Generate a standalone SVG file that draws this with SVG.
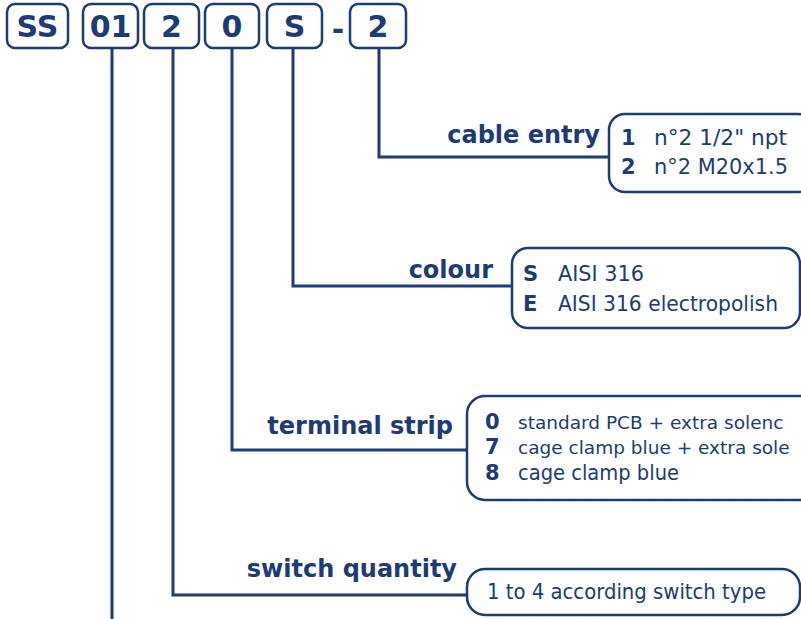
<svg xmlns="http://www.w3.org/2000/svg" width="801" height="619" viewBox="0 0 801 619">
<style>
.bg{fill:#ffffff}
.code{fill:#ffffff;stroke:#1d3b75;stroke-width:2.5}
.box{fill:#ffffff;stroke:#1d3b75;stroke-width:2.5}
.ct{font-family:"DejaVu Sans",sans-serif;font-weight:bold;font-size:30px;fill:#1d3b75;text-anchor:middle}
.lbl{font-family:"DejaVu Sans",sans-serif;font-weight:bold;font-size:24px;fill:#1d3b75;text-anchor:end}
.key{font-family:"DejaVu Sans",sans-serif;font-weight:bold;font-size:21px;fill:#1d3b75}
.txt{font-family:"DejaVu Sans",sans-serif;font-size:21px;fill:#1d3b75}
.txs{font-family:"DejaVu Sans",sans-serif;font-size:18.5px;fill:#1d3b75}
.conn{fill:none;stroke:#1d3b75;stroke-width:3}
</style>
<rect class="bg" x="0" y="0" width="801" height="619"/>
<g id="connectors">
<path class="conn" d="M112,48 V619"/>
<path class="conn" d="M173,48 V595 H467"/>
<path class="conn" d="M232,48 V450 H467"/>
<path class="conn" d="M293,48 V286 H512"/>
<path class="conn" d="M379,48 V157 H609"/>
</g>
<g id="code-SS"><rect class="code" x="7" y="4" width="61" height="44" rx="8"/><text class="ct" x="37.5" y="37">SS</text></g>
<g id="code-01"><rect class="code" x="83" y="4" width="55" height="44" rx="8"/><text class="ct" x="110.5" y="37">01</text></g>
<g id="code-2a"><rect class="code" x="144" y="4" width="55" height="44" rx="8"/><text class="ct" x="171.5" y="37">2</text></g>
<g id="code-0"><rect class="code" x="205" y="4" width="54" height="44" rx="8"/><text class="ct" x="232" y="37">0</text></g>
<g id="code-S"><rect class="code" x="267" y="4" width="55" height="44" rx="8"/><text class="ct" x="294.5" y="37">S</text></g>
<g id="code-dash"><text class="ct" x="338" y="40">-</text></g>
<g id="code-2b"><rect class="code" x="350" y="4" width="56" height="44" rx="8"/><text class="ct" x="378" y="37">2</text></g>

<g id="cable-entry">
<text class="lbl" x="600" y="143">cable entry</text>
<rect class="box" x="609" y="114" width="205" height="78" rx="16"/>
<text class="key" x="621" y="145">1</text><text class="txt" x="654" y="145" textLength="133" lengthAdjust="spacingAndGlyphs">n°2 1/2" npt</text>
<text class="key" x="621" y="174">2</text><text class="txt" x="654" y="174" textLength="134" lengthAdjust="spacingAndGlyphs">n°2 M20x1.5</text>
</g>
<g id="colour">
<text class="lbl" x="493" y="278">colour</text>
<rect class="box" x="512" y="248" width="288" height="80" rx="16"/>
<text class="key" x="523" y="281">S</text><text class="txt" x="558" y="281" textLength="86" lengthAdjust="spacingAndGlyphs">AISI 316</text>
<text class="key" x="523" y="311">E</text><text class="txt" x="558" y="311" textLength="220" lengthAdjust="spacingAndGlyphs">AISI 316 electropolish</text>
</g>
<g id="terminal-strip">
<text class="lbl" x="453" y="434">terminal strip</text>
<rect class="box" x="467" y="396" width="350" height="104" rx="18"/>
<text class="key" x="485" y="429">0</text><text class="txs" x="518" y="429">standard PCB + extra solenc</text>
<text class="key" x="485" y="454">7</text><text class="txs" x="518" y="454">cage clamp blue + extra sole</text>
<text class="key" x="485" y="480">8</text><text class="txt" x="518" y="480" textLength="161" lengthAdjust="spacingAndGlyphs">cage clamp blue</text>
</g>
<g id="switch-quantity">
<text class="lbl" x="457" y="577">switch quantity</text>
<rect class="box" x="467" y="569" width="333" height="46" rx="18"/>
<text class="txt" x="487" y="599" textLength="279" lengthAdjust="spacingAndGlyphs">1 to 4 according switch type</text>
</g>
</svg>
